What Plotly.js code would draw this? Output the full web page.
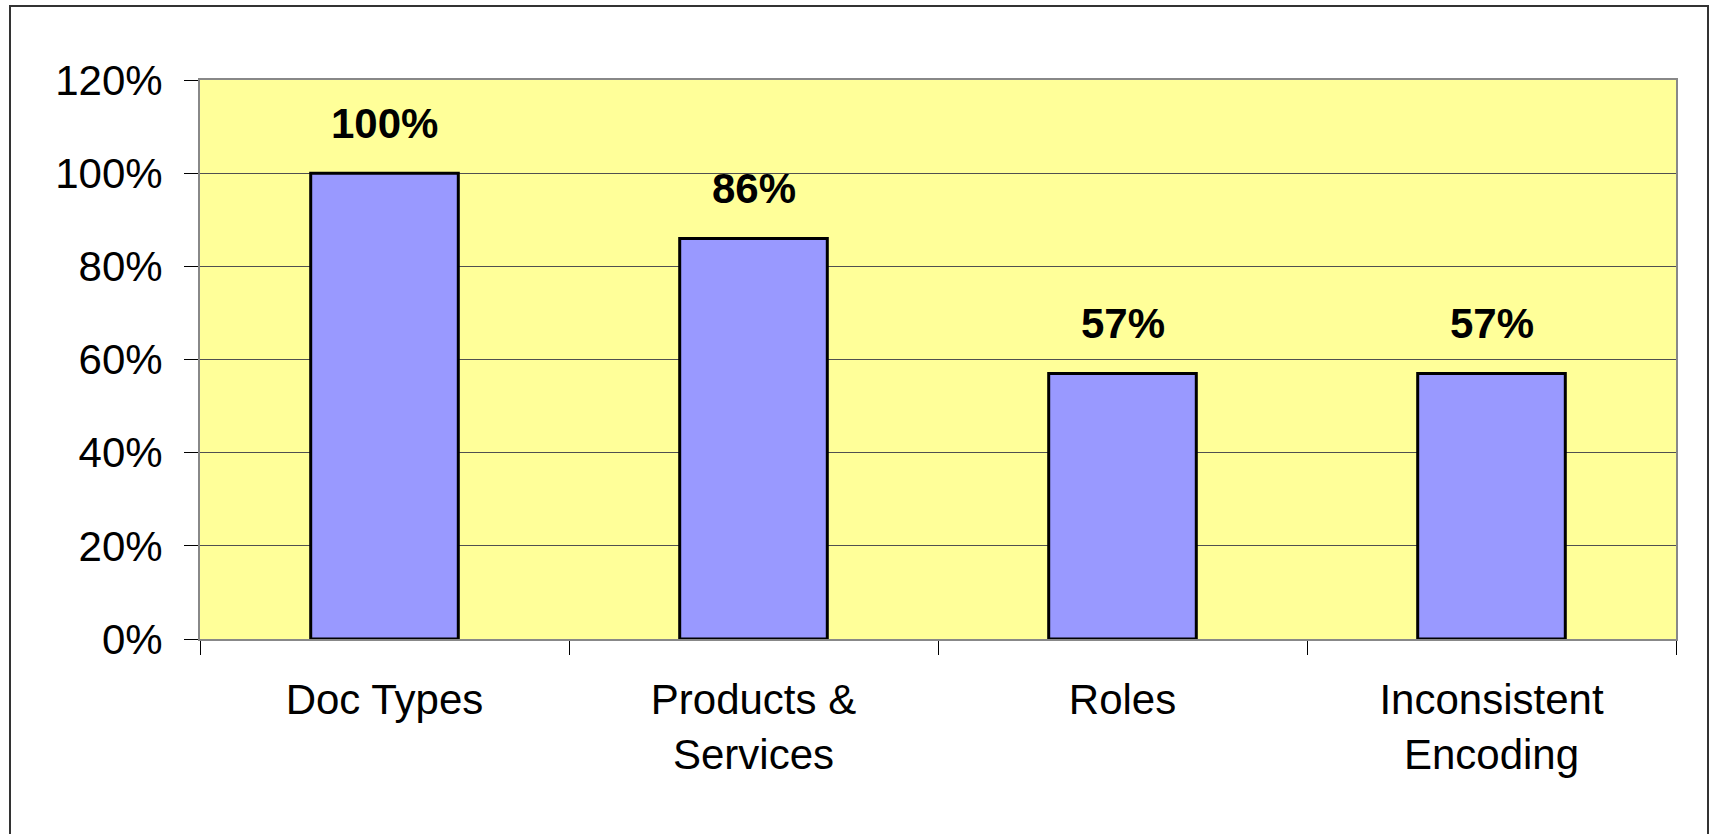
<!DOCTYPE html>
<html>
<head>
<meta charset="utf-8">
<script src="https://cdn.plot.ly/plotly-3.0.1.min.js"></script>
<style>
html,body{margin:0;padding:0;background:#fff;overflow:hidden;}
#chart{width:1714px;height:834px;}
</style>
</head>
<body>
<div id="chart"></div>
<script>
const categories = ["Doc Types", "Products &<br>Services", "Roles", "Inconsistent<br>Encoding"];
const values = [1.00, 0.86, 0.57, 0.57];
const valueLabels = ["100%", "86%", "57%", "57%"];
const yTickVals = [0, 0.2, 0.4, 0.6, 0.8, 1.0, 1.2];
const yTickText = ["0%", "20%", "40%", "60%", "80%", "100%", "120%"];

const fontFamily = '"Liberation Sans", Arial, sans-serif';

const trace = {
  type: 'bar',
  x: categories,
  y: values,
  marker: {color: '#9999FF', line: {color: '#000000', width: 3}},
  hoverinfo: 'none'
};

const annotations = categories.map((c, i) => ({
  x: c, y: values[i], xref: 'x', yref: 'y',
  text: '<b>' + valueLabels[i] + '</b>',
  showarrow: false, yanchor: 'bottom', yshift: 24,
  font: {family: fontFamily, size: 42, color: '#000'}
}));

const layout = {
  width: 1714, height: 834,
  margin: {l: 200, r: 38, t: 80, b: 195, pad: 0},
  paper_bgcolor: '#ffffff',
  plot_bgcolor: '#FFFF99',
  showlegend: false,
  bargap: 0.6,
  font: {family: fontFamily, size: 42, color: '#000'},
  xaxis: {
    type: 'category',
    tickson: 'boundaries',
    ticks: 'outside', ticklen: 14, tickcolor: '#000', tickwidth: 1,
    ticklabelstandoff: 23,
    showline: true, linecolor: '#888', linewidth: 2, mirror: true,
    showgrid: false, zeroline: false,
    tickfont: {family: fontFamily, size: 42, color: '#000'}
  },
  yaxis: {
    range: [0, 1.2],
    tickvals: yTickVals, ticktext: yTickText,
    ticks: 'outside', ticklen: 14, tickcolor: '#000', tickwidth: 1,
    ticklabelstandoff: 13,
    showline: true, linecolor: '#888', linewidth: 2, mirror: true,
    showgrid: true, gridcolor: '#505050', gridwidth: 1,
    zeroline: false,
    tickfont: {family: fontFamily, size: 42, color: '#000'}
  },
  annotations: annotations,
  shapes: [{
    type: 'rect', xref: 'paper', yref: 'paper',
    x0: (10 - 200) / 1476, x1: (1708 - 200) / 1476,
    y0: (639 - 860) / 559, y1: (639 - 6) / 559,
    line: {color: '#333', width: 2}, fillcolor: 'rgba(0,0,0,0)', layer: 'below'
  }]
};

Plotly.newPlot('chart', [trace], layout, {displayModeBar: false, staticPlot: true});
</script>
</body>
</html>
